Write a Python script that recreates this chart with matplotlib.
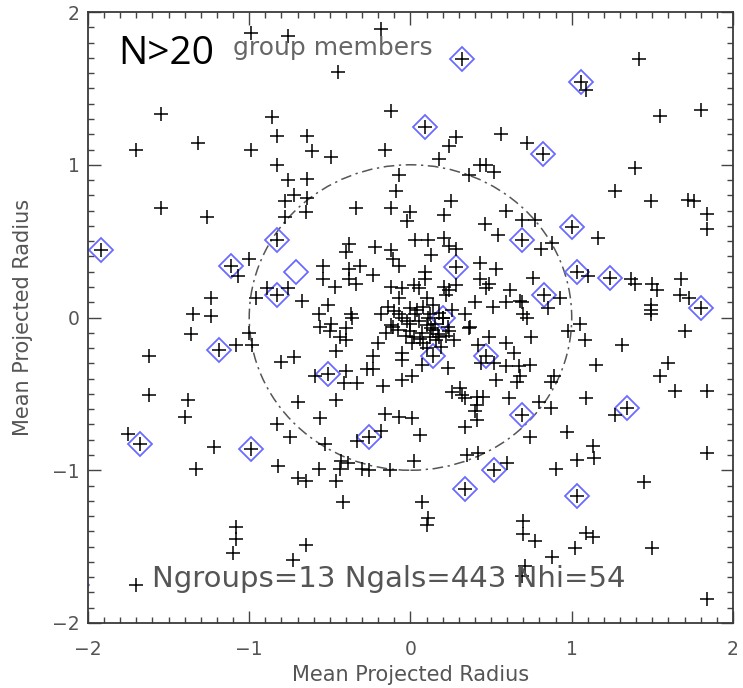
import numpy as np
import matplotlib
matplotlib.use("Agg")
import matplotlib.pyplot as plt
from matplotlib.patches import Circle
from matplotlib.ticker import MultipleLocator

# projected positions of group members (units of mean projected radius)
upper_members = [
    (-0.99, 1.86), (-0.76, 1.84), (-0.18, 1.89), (-0.45, 1.61), (-1.55, 1.33),
    (-1.70, 1.10), (-1.32, 1.14), (-0.99, 1.10), (-0.86, 1.31), (-0.83, 1.19),
    (-0.83, 1.00), (-0.76, 0.90), (-0.72, 0.80), (-0.78, 0.76), (-0.78, 0.66),
    (-1.55, 0.72), (-1.26, 0.66), (-0.64, 1.19), (-0.61, 1.09), (-0.49, 1.05),
    (-0.64, 0.91), (-0.64, 0.78), (-0.65, 0.69), (-0.12, 1.35), (0.56, 1.20),
    (0.28, 1.18), (0.24, 1.12), (-0.16, 1.10), (0.18, 1.04), (0.43, 1.00),
    (0.47, 1.00), (0.52, 0.95), (0.36, 0.93), (-0.07, 0.93), (-0.09, 0.83),
    (-0.34, 0.72), (-0.12, 0.72), (0.00, 0.69), (-0.02, 0.63), (0.25, 0.76),
    (0.21, 0.67), (0.46, 0.61), (0.59, 0.70), (0.54, 0.54), (0.03, 0.51),
    (0.11, 0.51), (0.21, 0.52), (0.24, 0.47), (0.28, 0.45), (-0.38, 0.48),
    (-0.40, 0.43), (-0.22, 0.46), (-0.12, 0.44), (-0.11, 0.38), (-0.07, 0.34),
    (0.13, 0.41), (0.43, 0.36), (0.53, 0.32),
    (1.42, 1.69), (1.09, 1.49), (1.55, 1.32), (1.80, 1.36), (0.72, 1.14),
    (1.39, 0.98), (1.27, 0.83), (1.49, 0.76), (1.72, 0.77), (1.76, 0.76),
    (1.84, 0.68), (1.84, 0.58), (0.69, 0.64), (0.77, 0.64), (1.16, 0.52),
    (0.81, 0.45), (0.88, 0.49),
]

middle_members = [
    (-0.54, 0.34), (-0.54, 0.25), (-0.38, 0.32), (-0.38, 0.25), (-0.31, 0.34),
    (-0.23, 0.28), (-0.34, 0.22), (-0.47, 0.20), (-0.12, 0.20), (-0.05, 0.19),
    (0.02, 0.21), (0.05, 0.19), (0.09, 0.30), (0.09, 0.25), (0.21, 0.20),
    (0.22, 0.15), (0.28, 0.21), (0.43, 0.25), (0.49, 0.22), (0.62, 0.18),
    (0.40, 0.10), (-0.51, 0.08), (-0.07, 0.13), (0.10, 0.13), (0.51, 0.07),
    (0.59, 0.10), (-0.37, 0.02), (-0.57, 0.02),
    (-1.00, 0.38), (-1.07, 0.27), (-0.89, 0.19), (-0.76, 0.19), (-0.96, 0.13),
    (-0.67, 0.11), (-1.24, 0.13), (-1.35, 0.02), (-1.24, 0.01),
    (-0.49, -0.04), (-0.50, -0.09), (-0.56, -0.06), (-0.40, -0.07), (-0.46, -0.22),
    (-0.40, -0.15), (-0.44, -0.13), (-0.36, 0.00),
    (-0.12, -0.05), (-0.08, -0.08), (0.00, -0.09), (0.02, -0.13), (0.13, -0.07),
    (0.17, -0.11), (0.24, -0.09), (0.11, 0.00), (0.20, 0.00), (0.36, -0.07),
    (0.24, 0.18), (0.47, 0.19), (0.68, 0.11), (0.76, 0.26), (0.85, 0.06),
    (0.93, 0.13), (0.70, 0.02), (0.75, -0.13), (0.34, 0.02), (0.37, -0.06),
    (-0.14, 0.07), (-0.10, 0.04), (-0.07, 0.02), (-0.05, 0.00), (0.00, 0.06),
    (0.04, 0.05), (0.08, 0.07), (0.12, 0.02), (0.15, -0.04), (0.18, -0.13),
    (0.12, -0.13), (0.23, -0.06), (0.26, 0.05), (-0.11, -0.06), (0.00, -0.04),
    (0.01, -0.17), (-0.05, -0.23), (0.08, -0.17),
    (0.98, -0.09), (1.05, -0.04), (1.08, -0.15), (1.31, -0.18), (1.70, -0.09),
    (1.10, 0.27), (1.37, 0.25), (1.39, 0.22), (1.50, 0.22), (1.53, 0.18),
    (1.68, 0.25), (1.67, 0.15), (1.73, 0.13), (1.49, 0.08), (1.49, 0.05),
    (1.49, 0.02), (0.69, 0.10),
    (-1.36, -0.11), (-1.08, -0.18), (-0.98, -0.18), (-1.00, -0.10), (-0.80, -0.29),
    (-0.72, -0.26),
]

# crowded core around the group centres
core_members = [
    (0.05, -0.02), (0.10, -0.05), (0.07, -0.10), (0.14, -0.08), (0.16, -0.15),
    (0.10, -0.20), (-0.02, -0.02), (0.03, 0.02), (0.18, 0.03), (0.22, -0.12),
    (-0.15, -0.10), (-0.18, 0.02), (0.14, 0.08), (0.06, -0.14), (0.19, -0.19),
    (-0.03, -0.12), (0.27, -0.15), (-0.20, -0.17),
]

lower_members = [
    (-0.23, -0.25), (-0.23, -0.34), (-0.05, -0.28), (-0.05, -0.41), (0.01, -0.38),
    (0.23, -0.33), (-0.17, -0.45), (0.42, -0.18), (0.49, -0.13), (0.44, -0.30),
    (0.52, -0.30), (0.59, -0.32), (0.64, -0.23), (0.59, -0.17), (0.67, -0.32),
    (0.68, -0.38), (0.66, -0.42), (0.74, -0.31), (0.53, -0.41), (0.72, 0.00),
    (0.87, -0.42), (0.89, -0.38),
    (0.26, -0.49), (0.31, -0.46), (0.32, -0.51), (0.34, -0.53), (0.41, -0.52),
    (0.45, -0.52), (0.41, -0.57), (0.61, -0.53), (0.80, -0.55), (0.87, -0.59),
    (-0.16, -0.63), (-0.07, -0.65), (0.01, -0.66), (0.40, -0.61), (0.41, -0.67),
    (0.34, -0.72), (0.06, -0.77), (0.07, -0.31),
    (-0.40, -0.35), (-0.41, -0.43), (-0.33, -0.43), (-0.59, -0.38), (-0.46, -0.54),
    (-0.27, -0.34), (-0.56, -0.66), (-0.18, -0.74), (-0.33, -0.81), (-0.53, -0.83),
    (-0.43, -0.94), (-0.44, -0.99), (-0.39, -0.95), (-0.57, -0.99), (-0.30, -0.99),
    (-0.26, -1.00), (-0.13, -1.00), (0.02, -0.94), (-0.46, -1.07), (-0.65, -1.07),
    (-0.70, -1.05), (-0.42, -1.21), (0.07, -1.21), (0.11, -1.31), (0.10, -1.36),
    (0.35, -0.90), (0.42, -0.89), (0.60, -0.95), (-0.65, -1.49),
    (0.74, -0.78), (0.97, -0.75), (0.90, -0.99), (1.03, -0.93), (1.13, -0.84),
    (1.14, -0.92), (1.45, -1.08), (1.84, -0.89), (0.70, -1.33), (0.70, -1.42),
    (0.77, -1.46), (0.88, -1.57), (1.02, -1.51), (1.09, -1.41), (1.13, -1.44),
    (1.50, -1.51), (0.71, -1.63), (0.69, -1.69), (1.84, -1.84),
    (1.15, -0.31), (1.60, -0.30), (1.55, -0.38), (1.64, -0.48), (1.84, -0.48),
    (1.09, -0.53), (1.27, -0.64),
    (-1.62, -0.25), (-1.62, -0.51), (-1.75, -0.76), (-1.22, -0.85), (-1.33, -0.99),
    (-1.40, -0.65), (-1.38, -0.54), (-0.70, -0.55), (-0.83, -0.70), (-0.75, -0.78),
    (-0.82, -0.97), (-1.08, -1.37), (-1.08, -1.45), (-1.10, -1.54), (-0.73, -1.59),
    (-1.70, -1.75),
]

# HI detected members
hi_members = [
    (0.32, 1.69), (1.06, 1.54), (0.09, 1.25), (0.82, 1.07), (-1.92, 0.44),
    (-0.83, 0.51), (-1.11, 0.34), (-0.71, 0.30), (-0.83, 0.15), (0.28, 0.33),
    (0.69, 0.51), (1.00, 0.59), (1.03, 0.30), (1.24, 0.26), (0.83, 0.15),
    (1.80, 0.06), (0.20, 0.00), (0.14, -0.25), (0.47, -0.25), (-1.19, -0.21),
    (-0.51, -0.37), (-1.68, -0.83), (-0.99, -0.86), (-0.26, -0.78), (0.34, -1.12),
    (0.52, -1.00), (0.69, -0.64), (1.34, -0.59), (1.03, -1.17), (-2.07, -1.75),
]
# HI sources with no optical member plotted
hi_only = [(-0.71, 0.30), (-2.07, -1.75)]

n_groups = 13
n_gals = 443
n_hi = 54

gals = np.array(upper_members + middle_members + core_members + lower_members
                + [p for p in hi_members if p not in hi_only])
hi = np.array(hi_members)

GREY = "#555555"

fig = plt.figure(figsize=(7.43, 6.88), dpi=100)
ax = fig.add_axes([0.1184, 0.0945, 0.8681, 0.888])

ax.plot(hi[:, 0], hi[:, 1], linestyle="none", marker="D", markersize=12.2,
        markerfacecolor="none", markeredgecolor="#6a6cff", markeredgewidth=1.3)
ax.plot(gals[:, 0], gals[:, 1], linestyle="none", marker="+", markersize=10,
        color="black", markeredgewidth=1.1)

ax.add_patch(Circle((0, 0), 1.0, fill=False, edgecolor=GREY, linewidth=1.1,
                    linestyle=(0, (7, 3, 1.5, 3))))

ax.set_xlim(-2, 2)
ax.set_ylim(-2, 2)
ax.xaxis.set_major_locator(MultipleLocator(1))
ax.yaxis.set_major_locator(MultipleLocator(1))
ax.xaxis.set_minor_locator(MultipleLocator(0.1))
ax.yaxis.set_minor_locator(MultipleLocator(0.1))
ax.tick_params(which="both", direction="in", top=True, right=True,
               color="#444444", width=1.0)
ax.tick_params(which="major", length=9, labelsize=13.5, labelcolor=GREY)
ax.tick_params(which="minor", length=4)
ax.tick_params(axis="x", which="major", pad=12)
ax.tick_params(axis="y", which="major", pad=6)
for sp in ax.spines.values():
    sp.set_color("#3a3a3a")
    sp.set_linewidth(1.3)

ax.set_xlabel("Mean Projected Radius", fontsize=15, color=GREY)
ax.set_ylabel("Mean Projected Radius", fontsize=15, color=GREY)
ax.xaxis.set_label_coords(0.5, -0.068)
ax.yaxis.set_label_coords(-0.085, 0.5)

ax.text(0.0465, 0.915, "N>20", transform=ax.transAxes, fontsize=28,
        family="Open Sans", color="black", va="baseline", ha="left")
ax.text(0.225, 0.9296, "group members", transform=ax.transAxes, fontsize=18,
        color="#666666", va="baseline", ha="left")
ax.text(0.099, 0.059, f"Ngroups={n_groups} Ngals={n_gals} Nhi={n_hi}",
        transform=ax.transAxes, fontsize=21, color=GREY,
        va="baseline", ha="left")

fig.savefig("out.png", dpi=100)
